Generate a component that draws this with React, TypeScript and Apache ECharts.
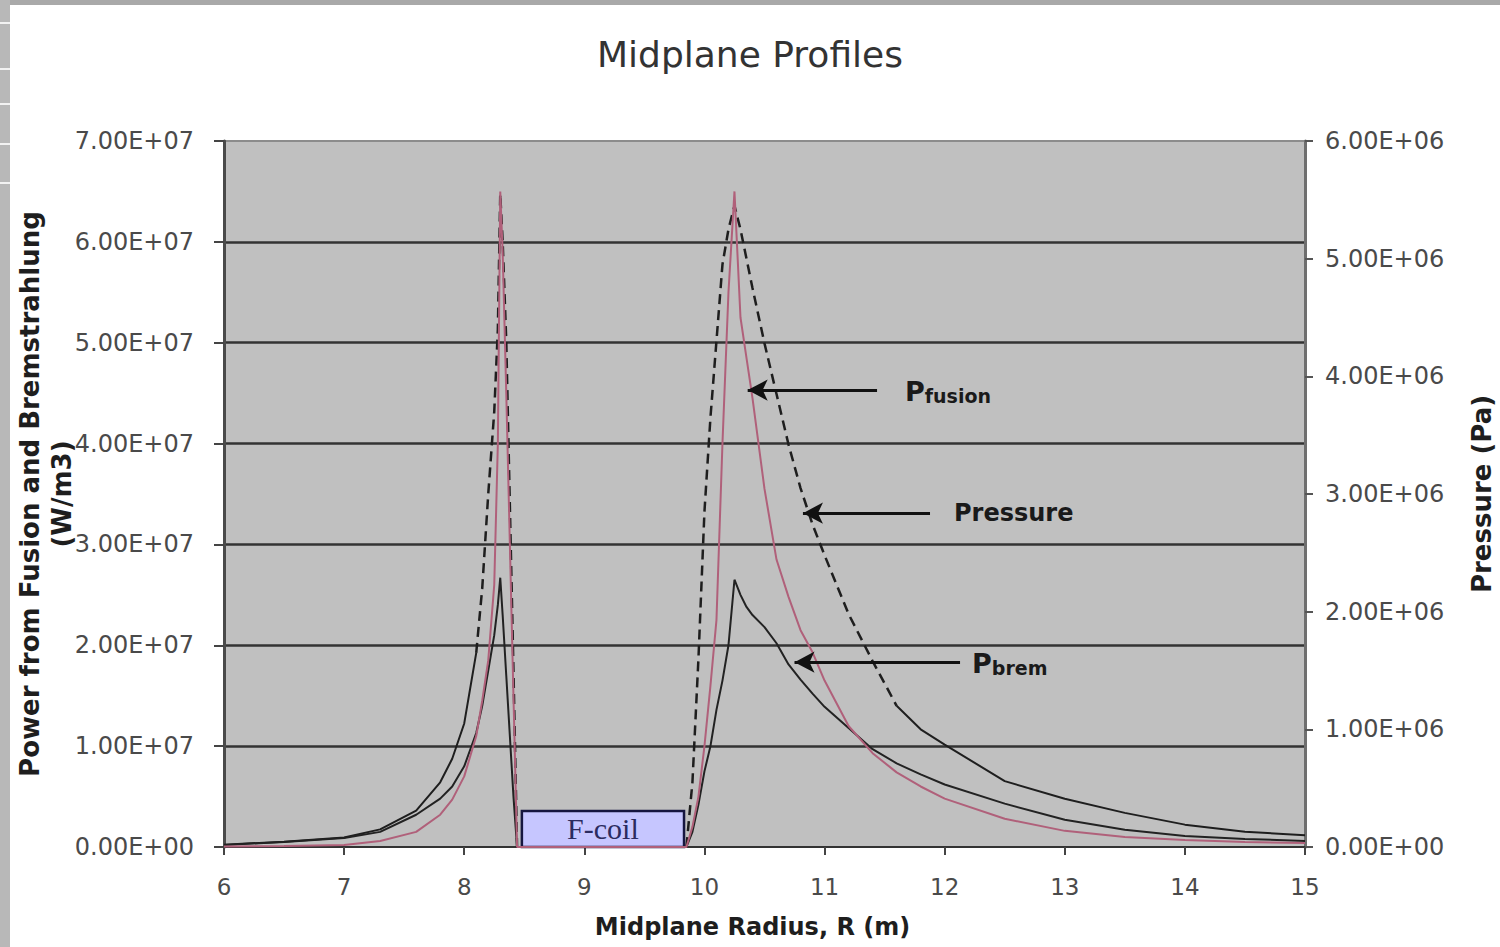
import { useEffect, useRef } from "react";
import * as echarts from "echarts";

// Midplane radius samples (m)
const radius = [
  6.0, 6.5, 7.0, 7.3, 7.6, 7.8, 7.9, 8.0, 8.1, 8.15, 8.2, 8.25, 8.28, 8.3, 8.32, 8.35, 8.38, 8.41, 8.44,
  9.0, 9.5, 9.85, 9.9, 9.95, 10.0, 10.05, 10.1, 10.15, 10.2, 10.25, 10.3, 10.35, 10.4, 10.5, 10.6, 10.7,
  10.8, 10.9, 11.0, 11.2, 11.4, 11.6, 11.8, 12.0, 12.5, 13.0, 13.5, 14.0, 14.5, 15.0,
];

// Fusion power density (W/m3)
const pFusion = [
  5e4, 1e5, 2e5, 6e5, 1.5e6, 3.2e6, 4.7e6, 7.0e6, 1.1e7, 1.45e7, 1.85e7, 2.6e7, 4.0e7, 6.5e7, 5.9e7, 4.5e7, 3.0e7, 1.5e7, 0,
  0, 0, 0, 2.0e6, 5.0e6, 1.0e7, 1.6e7, 2.25e7, 4.0e7, 5.5e7, 6.5e7, 5.25e7, 4.85e7, 4.45e7, 3.55e7, 2.85e7, 2.48e7,
  2.15e7, 1.93e7, 1.65e7, 1.2e7, 9.3e6, 7.4e6, 6.0e6, 4.8e6, 2.8e6, 1.6e6, 1.0e6, 7e5, 5e5, 4e5,
];

// Bremsstrahlung power density (W/m3)
const pBrem = [
  2e5, 5e5, 9e5, 1.5e6, 3.2e6, 4.8e6, 6.0e6, 8.0e6, 1.13e7, 1.4e7, 1.75e7, 2.1e7, 2.4e7, 2.67e7, 2.3e7, 1.7e7, 1.1e7, 5.0e6, 0,
  0, 0, 0, 1.5e6, 4.2e6, 7.5e6, 1.0e7, 1.36e7, 1.65e7, 2.0e7, 2.65e7, 2.5e7, 2.38e7, 2.3e7, 2.18e7, 2.02e7, 1.81e7,
  1.66e7, 1.52e7, 1.39e7, 1.18e7, 9.7e6, 8.3e6, 7.2e6, 6.2e6, 4.3e6, 2.7e6, 1.7e6, 1.1e6, 8e5, 6e5,
];

// Plasma pressure (Pa)
const pressure = [
  2e4, 4.5e4, 8e4, 1.5e5, 3.1e5, 5.5e5, 7.5e5, 1.05e6, 1.65e6, 2.2e6, 3.0e6, 3.7e6, 4.4e6, 5.55e6, 5.15e6, 4.3e6, 2.9e6, 1.5e6, 0,
  0, 0, 0, 5.5e5, 1.6e6, 2.85e6, 3.65e6, 4.3e6, 4.95e6, 5.25e6, 5.45e6, 5.25e6, 5.0e6, 4.75e6, 4.28e6, 3.85e6, 3.42e6,
  3.05e6, 2.74e6, 2.48e6, 1.98e6, 1.58e6, 1.2e6, 1.0e6, 8.7e5, 5.6e5, 4.1e5, 2.9e5, 1.9e5, 1.3e5, 1.0e5,
];

// Steep stretches of the pressure profile are drawn dashed
const pressureDashedRanges: [number, number][] = [
  [8.1, 8.44],
  [9.85, 11.6],
];

// Arrow annotations: label, tail radius, tip radius, height on the power axis (W/m3)
const arrowLabels = ["{p|P}{s|fusion}", "{q|Pressure}", "{p|P}{s|brem}"];
const arrowTail = [11.437, 11.878, 12.128];
const arrowTip = [10.36, 10.82, 10.75];
const arrowLevel = [4.53e7, 3.31e7, 1.833e7];
const arrowLabelGap = [28, 24, 12];

// F-coil cross-section on the midplane
const coilName = "F-coil";
const coilInner = 8.48;
const coilOuter = 9.83;
const coilTop = 3.57e6;

// Axis ticks
const radiusTicks = { min: 6, max: 15, interval: 1 };
const powerTicks = { min: 0, max: 7e7, interval: 1e7 };
const pressureTicks = { min: 0, max: 6e6, interval: 1e6 };

const FONT = "DejaVu Sans";

const sci = (v: number) => {
  const [m, e] = v.toExponential(2).split("e");
  const n = parseInt(e, 10);
  return `${m.toUpperCase()}E${n < 0 ? "-" : "+"}${String(Math.abs(n)).padStart(2, "0")}`;
};

const inDashed = (r: number) => pressureDashedRanges.some(([a, b]) => r >= a && r <= b);

export default function App() {
  const ref = useRef<HTMLDivElement>(null);

  useEffect(() => {
    if (!ref.current) return;
    const chart = echarts.init(ref.current, undefined, { renderer: "svg" });

    const fusionData = radius.map((r, i) => [r, pFusion[i]]);
    const bremData = radius.map((r, i) => [r, pBrem[i]]);
    const pressureSolid = radius.map((r, i) =>
      r <= pressureDashedRanges[0][0] || r >= pressureDashedRanges[1][1] ? [r, pressure[i]] : [r, null]
    );
    const pressureDashed = radius.map((r, i) => (inDashed(r) ? [r, pressure[i]] : [r, null]));

    const arrows = arrowLabels.map((label, i) => [
      {
        coord: [arrowTail[i], arrowLevel[i]],
        label: { formatter: label, distance: arrowLabelGap[i] },
      },
      { coord: [arrowTip[i], arrowLevel[i]] },
    ]);

    const labelText = { fontFamily: FONT, fontSize: 24, color: "#4a4a4a" };
    const nameText = { fontFamily: FONT, fontSize: 25, fontWeight: "bold" as const, color: "#1e1e1e" };

    const edgeLines = [22, 68, 103, 143, 182];

    chart.setOption({
      animation: false,
      backgroundColor: "#ffffff",
      title: {
        text: "Midplane Profiles",
        left: "center",
        top: 31,
        textStyle: { fontFamily: FONT, fontSize: 36, fontWeight: "normal", color: "#333333" },
      },
      graphic: [
        { type: "rect", left: 0, top: 0, shape: { width: 1500, height: 5 }, style: { fill: "#a9a9a9" }, silent: true },
        { type: "rect", left: 0, top: 0, shape: { width: 10, height: 947 }, style: { fill: "#b8b8b8" }, silent: true },
        ...edgeLines.map((y) => ({
          type: "rect",
          left: 0,
          top: y,
          shape: { width: 10, height: 2 },
          style: { fill: "#f2f2f2" },
          silent: true,
        })),
      ],
      grid: {
        left: 224,
        right: 195,
        top: 141,
        bottom: 100,
        outerBoundsMode: "none",
        containLabel: false,
        show: true,
        backgroundColor: "#c0c0c0",
        borderColor: "#8c8c8c",
        borderWidth: 2,
      },
      xAxis: {
        type: "value",
        ...radiusTicks,
        name: "Midplane Radius, R (m)",
        nameLocation: "middle",
        nameGap: 68,
        nameMoveOverlap: false,
        nameTextStyle: { ...nameText, fontSize: 24, padding: [0, 24, 0, 0] },
        axisLine: { show: true, lineStyle: { color: "#333333", width: 2 } },
        axisTick: { show: true, length: 8, lineStyle: { color: "#444444", width: 2 } },
        axisLabel: { ...labelText, fontSize: 23, margin: 28 },
        splitLine: { show: false },
      },
      yAxis: [
        {
          type: "value",
          position: "left",
          ...powerTicks,
          name: "Power from Fusion and Bremstrahlung\n(W/m3)",
          nameLocation: "middle",
          nameRotate: 90,
          nameGap: 146,
          nameMoveOverlap: false,
          nameTextStyle: { ...nameText, fontSize: 26, lineHeight: 32 },
          axisLine: { show: true, lineStyle: { color: "#4a4a4a", width: 3 } },
          axisTick: { show: true, length: 10, lineStyle: { color: "#444444", width: 2 } },
          axisLabel: { ...labelText, margin: 30, formatter: sci },
          splitLine: { show: true, showMinLine: false, showMaxLine: false, lineStyle: { color: "#333333", width: 2.5 } },
        },
        {
          type: "value",
          position: "right",
          ...pressureTicks,
          name: "Pressure (Pa)",
          nameLocation: "middle",
          nameRotate: 90,
          nameGap: 164,
          nameMoveOverlap: false,
          nameTextStyle: { ...nameText, fontSize: 26 },
          axisLine: { show: true, lineStyle: { color: "#6e6e6e", width: 3 } },
          axisTick: { show: true, length: 8, lineStyle: { color: "#555555", width: 2 } },
          axisLabel: { ...labelText, margin: 20, formatter: sci },
          splitLine: { show: false },
        },
      ],
      series: [
        {
          name: "Pressure",
          type: "line",
          yAxisIndex: 1,
          data: pressureSolid,
          symbol: "none",
          connectNulls: false,
          lineStyle: { color: "#1e1e1e", width: 2 },
          z: 3,
        },
        {
          name: "Pressure (steep)",
          type: "line",
          yAxisIndex: 1,
          data: pressureDashed,
          symbol: "none",
          connectNulls: false,
          lineStyle: { color: "#1e1e1e", width: 2.5, type: [10, 6] },
          z: 3,
        },
        {
          name: "Pbrem",
          type: "line",
          yAxisIndex: 0,
          data: bremData,
          symbol: "none",
          lineStyle: { color: "#222222", width: 2 },
          z: 3,
          markLine: {
            silent: true,
            symbol: ["none", "arrow"],
            symbolSize: [16, 20],
            lineStyle: { color: "#111111", width: 3, type: "solid" },
            label: {
              show: true,
              position: "start",
              rich: {
                p: { fontFamily: FONT, fontSize: 27, fontWeight: "bold", color: "#1a1a1a", verticalAlign: "bottom", lineHeight: 30 },
                s: { fontFamily: FONT, fontSize: 19, fontWeight: "bold", color: "#1a1a1a", verticalAlign: "bottom", lineHeight: 26 },
                q: { fontFamily: FONT, fontSize: 24, fontWeight: "bold", color: "#1a1a1a" },
              },
            },
            emphasis: { disabled: true },
            data: arrows,
          },
        },
        {
          name: "Pfusion",
          type: "line",
          yAxisIndex: 0,
          data: fusionData,
          symbol: "none",
          lineStyle: { color: "#b0607a", width: 2 },
          z: 4,
          markArea: {
            silent: true,
            itemStyle: { color: "#c6c6ff", borderColor: "#161640", borderWidth: 2.5, opacity: 1 },
            label: {
              show: true,
              position: "inside",
              fontFamily: "Liberation Serif",
              fontSize: 30,
              color: "#2b2b60",
            },
            data: [[{ name: coilName, xAxis: coilInner, yAxis: 0 }, { xAxis: coilOuter, yAxis: coilTop }]],
          },
        },
      ],
    });

    return () => chart.dispose();
  }, []);

  return <div ref={ref} style={{ position: "absolute", left: 0, top: 0, width: 1500, height: 947 }} />;
}
